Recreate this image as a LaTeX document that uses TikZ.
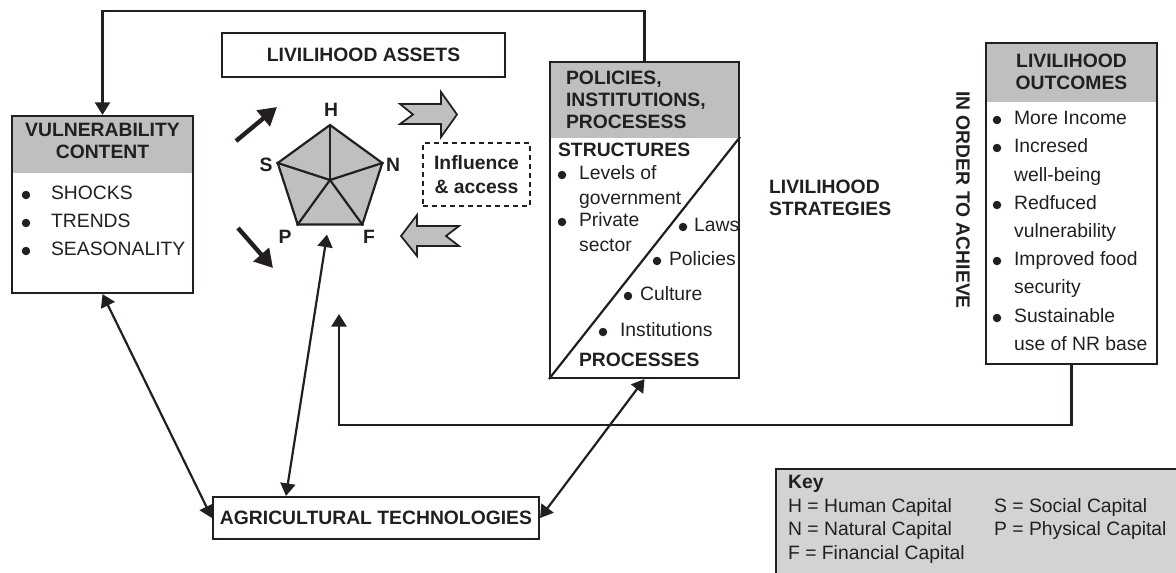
\documentclass[tikz,border=0pt]{standalone}
\usepackage{fontspec}
\setmainfont{Liberation Sans}
\usetikzlibrary{arrows.meta, shapes.geometric, calc}

\definecolor{ink}{RGB}{35,31,32}
\definecolor{boxgray}{RGB}{190,191,193}
\definecolor{keygray}{RGB}{209,211,212}

\begin{document}
\begin{tikzpicture}[x=0.02cm, y=-0.02cm, color=ink, line width=1.25pt,
    >={Triangle[length=0.25cm, width=0.3cm]},
    font=\fontsize{11}{12.5}\selectfont,
    box/.style={draw, inner sep=0pt},
    headbox/.style={box, path picture={\fill[boxgray] (path picture bounding box.north west) rectangle ([yshift=-#1]path picture bounding box.north east);}},
    btext/.style={font=\fontsize{11}{12.5}\selectfont\bfseries, inner sep=0pt},
    item/.style={anchor=mid west, inner sep=0pt},
    dot/.style={circle, fill, inner sep=0pt, minimum size=0.17cm},
    bigarrow/.style={->, line width=2.5pt, >={Triangle[length=0.36cm, width=0.4cm]}},
    blockarrow/.style={fill=boxgray, line width=1pt, line join=miter}]
	\useasboundingbox (0,0) rectangle (1176,572);

	% vulnerability
	\node[headbox=1.14cm, minimum width=3.62cm, minimum height=3.54cm] (vuln) at (102.5,204.5) {};
	\node[btext, align=center] (vhead) at (102.5,140.5) {VULNERABILITY\\CONTENT};
	\foreach \t [count=\i] in {SHOCKS, TRENDS, SEASONALITY} {
		\node[dot] (vd\i) at (26,167+28*\i) {};
		\node[item] (vt\i) at (50,167+28*\i) {\t};
	}

	% assets pentagon
	\node[box, btext, minimum width=5.66cm, minimum height=0.88cm] (assets) at (363.5,55) {LIVILIHOOD ASSETS};
	\node[regular polygon, regular polygon sides=5, minimum size=2.2cm, draw, fill=boxgray, inner sep=0pt] (pent) at (330,180) {};
	\foreach \c in {1,...,5}
		\draw (pent.center) -- (pent.corner \c);
	\node[btext] (h) at (331,110) {H};
	\node[btext] (s) at (266,165) {S};
	\node[btext] (n) at (393,165) {N};
	\node[btext] (p) at (285,237) {P};
	\node[btext] (f) at (369,237) {F};

	\coordinate (ua) at (236,141);
	\coordinate (ub) at (277,107);
	\coordinate (la) at (238,228);
	\coordinate (lb) at (273,268);
	\draw[bigarrow] (ua) -- (ub);
	\draw[bigarrow] (la) -- (lb);

	\filldraw[blockarrow] (400,104) -- (441,104) -- (441,92) -- (457,114.5) -- (441,137) -- (441,124) -- (400,124) -- (413,114.5) -- cycle;
	\filldraw[blockarrow] (401,236) -- (417,215) -- (417,226) -- (459,226) -- (446,236) -- (459,246) -- (417,246) -- (417,256) -- cycle;
	\node[draw, dashed, dash pattern=on 0.1cm off 0.08cm, line width=1.1pt, minimum width=2.14cm, minimum height=1.26cm, align=center, font=\fontsize{11}{13.6}\selectfont\bfseries] (infl) at (476.5,174.5) {Influence\\\& access};

	% policies
	\node[headbox=1.52cm, minimum width=3.78cm, minimum height=6.32cm] (pol) at (644.5,220) {};
	\draw (pol.south west) -- ($(pol.north east)+(0,76)$);
	\node[btext, align=left, anchor=west] (phead) at (565,100) {POLICIES,\\INSTITUTIONS,\\PROCESESS};
	\node[btext, item] (struct) at (557,152) {STRUCTURES};
	\node[dot] (sd1) at (562,175) {};
	\node[item] (st1) at (578,175) {Levels of};
	\node[item] (st2) at (578,200) {government};
	\node[dot] (sd3) at (562,222) {};
	\node[item] (st3) at (578,222) {Private};
	\node[item] (st4) at (578,247) {sector};
	\foreach \x/\tx/\y/\t [count=\i] in {683/693/227/Laws, 657/668/261/Policies, 628/639/296/Culture, 603/619/332/Institutions} {
		\node[dot] (pd\i) at (\x,\y) {};
		\node[item] (pt\i) at (\tx,\y) {\t};
	}
	\node[btext, item] (proc) at (578,362) {PROCESSES};

	\node[btext, align=left, anchor=west] (strat) at (768,198) {LIVILIHOOD\\STRATEGIES};
	\node[btext, rotate=-90] (achieve) at (963,200) {IN ORDER TO ACHIEVE};

	% outcomes
	\node[headbox=1.18cm, minimum width=3.42cm, minimum height=6.42cm] (out) at (1071.5,203.5) {};
	\node[btext, align=center] (ohead) at (1071.5,71.5) {LIVILIHOOD\\OUTCOMES};
	\foreach \y/\b/\t [count=\i] in {120/1/More Income, 148/1/Incresed, 177/0/well-being, 205/1/Redfuced, 233/0/vulnerability, 261/1/Improved food, 289/0/security, 318/1/Sustainable, 346/0/use of NR base} {
		\node[item] (ot\i) at (1013,\y) {\t};
		\ifnum\b=1 \node[dot] (od\i) at (997,\y) {}; \fi
	}

	\node[box, btext, minimum width=6.52cm, minimum height=0.84cm] (agri) at (376,518) {AGRICULTURAL TECHNOLOGIES};

	% key
	\node[box, fill=keygray, minimum width=9cm, minimum height=3cm] (key) at (1001,544) {};
	\node[btext, item] (keyt) at (787,484) {Key};
	\foreach \x/\y/\t [count=\i] in {787/508/H = Human Capital, 787/531/N = Natural Capital, 787/555/F = Financial Capital, 993/508/S = Social Capital, 993/531/P = Physical Capital}
		\node[item] (k\i) at (\x,\y) {\t};

	\coordinate (ptop) at (644.5,11);
	\coordinate (obot) at (1071.5,425);
	\coordinate (lend) at (339,314);
	\draw[->] (pol.north) -- (ptop) -| (vuln.north);
	\draw[->] (out.south) -- (obot) -| (lend);
	\draw[<->] (vuln.south) -- (agri.west);
	\draw[<->] ($(pent.south)+(-3,9)$) -- ($(agri.north west)+(74,0)$);
	\draw[<->] (pol.south) -- (agri.east);
\end{tikzpicture}
\end{document}
